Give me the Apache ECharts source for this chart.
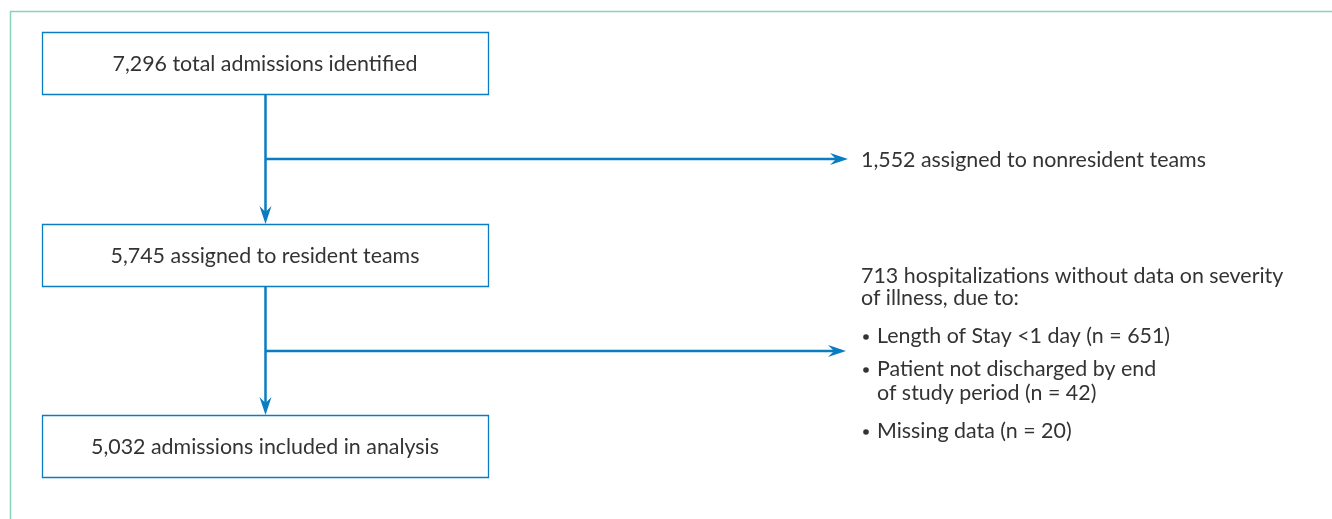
<!DOCTYPE html>
<html><head><meta charset="utf-8">
<script src="https://cdn.jsdelivr.net/npm/echarts@6/dist/echarts.min.js"></script>
<style>html,body{margin:0;padding:0;background:#fff}#c{width:1332px;height:519px}</style>
</head><body><div id="c"></div>
<script>
const boxLabels = ['7,296 total admissions identified','5,745 assigned to resident teams','5,032 admissions included in analysis'];
const exclusion1 = ['1,552 assigned to nonresident teams'];
const exclusion2Head = ['713 hospitalizations without data on severity','of illness, due to:'];
const exclusion2Items = [['Length of Stay <1 day (n = 651)'],['Patient not discharged by end','of study period (n = 42)'],['Missing data (n = 20)']];

const chart = echarts.init(document.getElementById('c'), null, {renderer:'canvas'});
const blue = '#0a7cc1', teal = '#86d3bd', txt = '#333333';
const font = '21.4px Lato, "Open Sans", sans-serif';
const g = [];
// frame
g.push({type:'polyline', shape:{points:[[10.5,519],[10.5,11.5],[1332,11.5]]}, style:{stroke:teal, lineWidth:1.5, fill:null}});
const boxY = [32, 224, 415];
const bx = 42, bw = 446, bh = 62;
boxLabels.forEach((t,i)=>{
  g.push({type:'rect', shape:{x:bx+0.5,y:boxY[i]+0.5,width:bw,height:bh}, style:{stroke:blue,lineWidth:1.3,fill:'#fff'}});
  g.push({type:'text', x:bx+bw/2, y:boxY[i]+bh/2+1, style:{text:t, font:font, fill:txt, align:'center', verticalAlign:'middle'}});
});
const cx = 265.5;
function vArrow(y1,y2){
  g.push({type:'line', shape:{x1:cx,y1:y1,x2:cx,y2:y2-12}, style:{stroke:blue,lineWidth:2.5}});
  g.push({type:'polygon', shape:{points:[[cx-6,y2-18],[cx,y2-12],[cx+6,y2-18],[cx,y2]]}, style:{fill:blue}});
}
function hArrow(y,x2){
  g.push({type:'line', shape:{x1:cx,y1:y,x2:x2-12,y2:y}, style:{stroke:blue,lineWidth:2.5}});
  g.push({type:'polygon', shape:{points:[[x2-18,y-6],[x2-12,y],[x2-18,y+6],[x2,y]]}, style:{fill:blue}});
}
vArrow(boxY[0]+bh+1, boxY[1]);
vArrow(boxY[1]+bh+1, boxY[2]);
hArrow(159, 848);
hArrow(351, 846);
// right texts
const tx = 861;
g.push({type:'text', x:tx, y:160, style:{text:exclusion1[0], font:font, fill:txt, verticalAlign:'middle'}});
exclusion2Head.forEach((t,i)=>g.push({type:'text', x:tx, y:276+i*22, style:{text:t, font:font, fill:txt, verticalAlign:'middle'}}));
const itemY = [336, 369, 431];
exclusion2Items.forEach((lines,i)=>{
  g.push({type:'circle', shape:{cx:tx+5, cy:itemY[i]+1, r:2.8}, style:{fill:txt}});
  lines.forEach((t,j)=>g.push({type:'text', x:tx+16, y:itemY[i]+j*24, style:{text:t, font:font, fill:txt, verticalAlign:'middle'}}));
});
chart.setOption({animation:false, graphic:{elements:g}});
</script></body></html>
